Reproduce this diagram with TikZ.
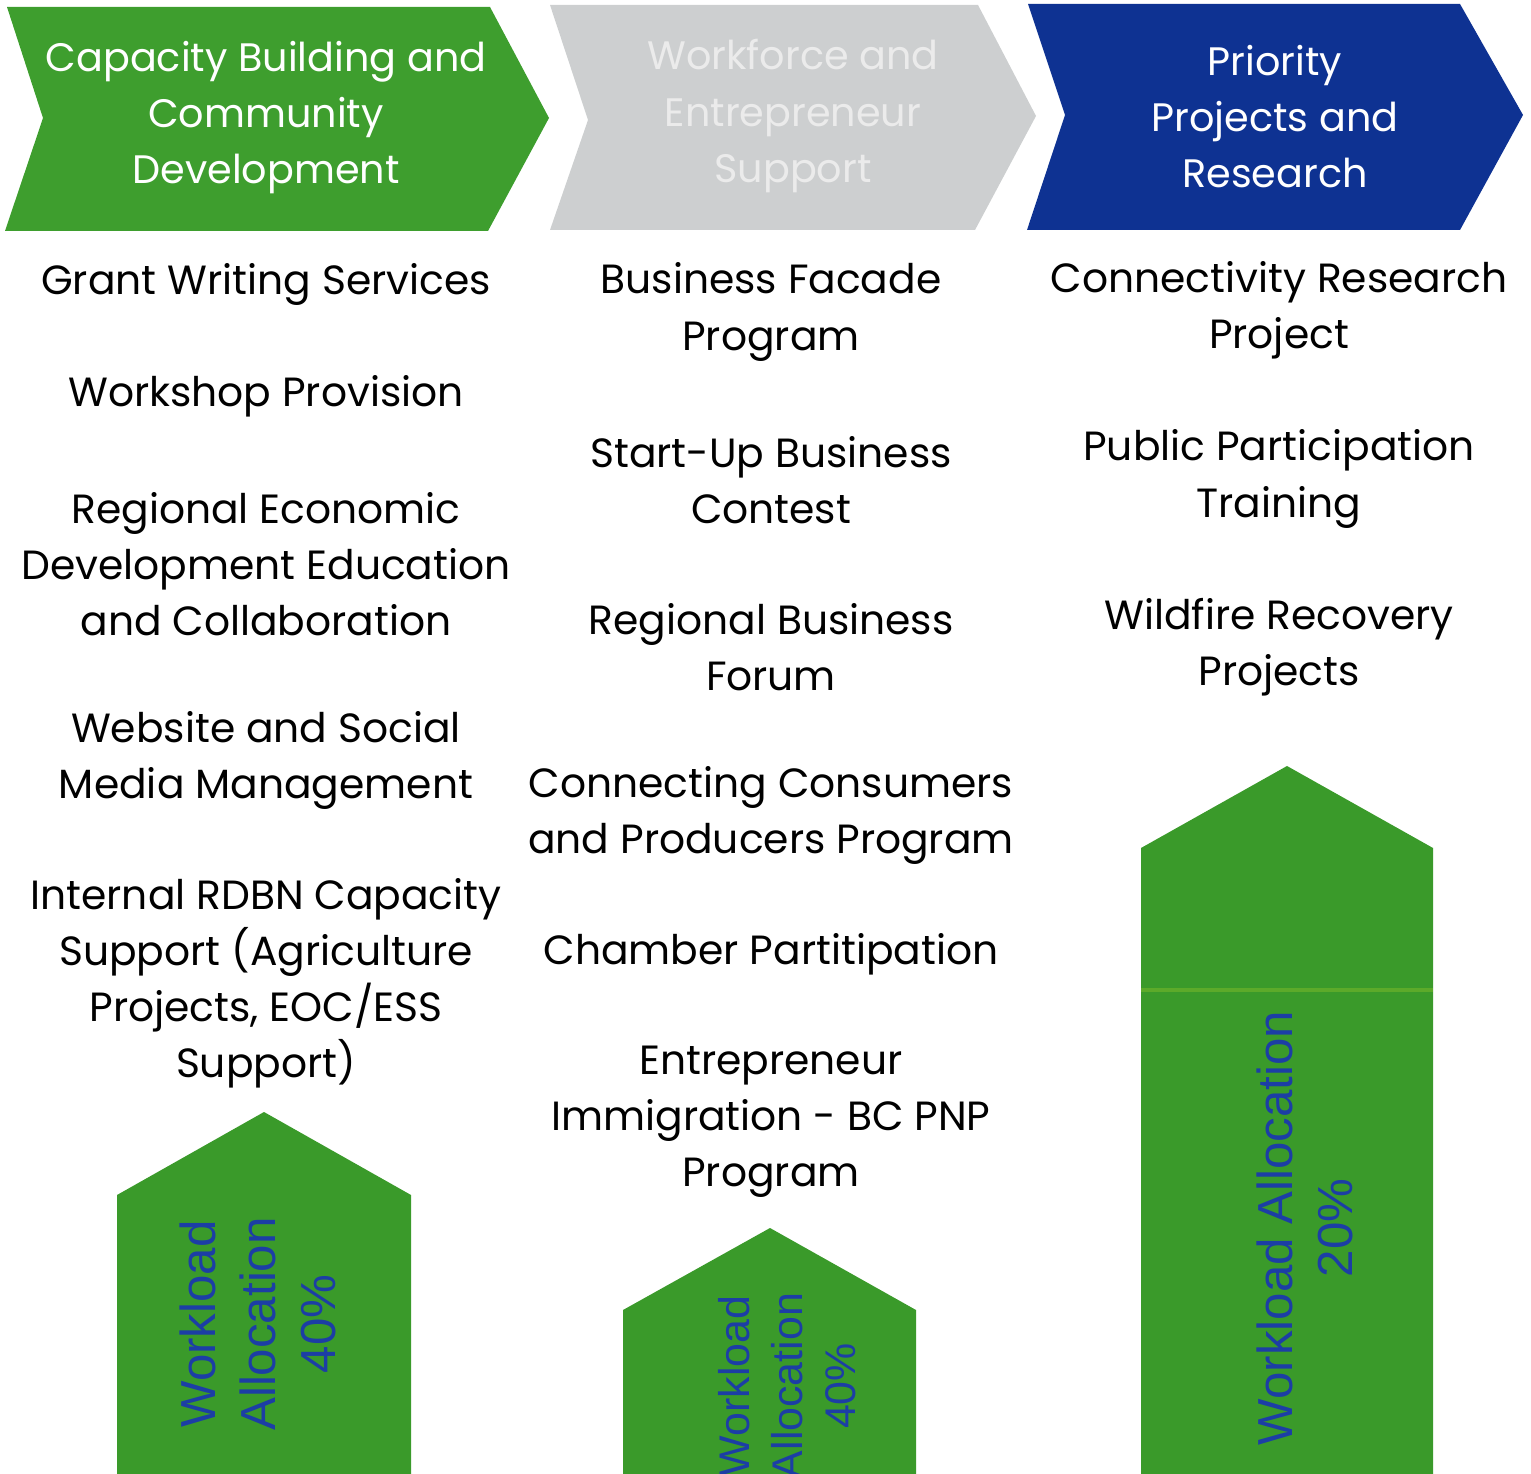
\documentclass[tikz,border=0pt]{standalone}
\usepackage{fontspec}
\setmainfont{Poppins}
\setsansfont{Liberation Sans}
\usepackage{tikz}
\usetikzlibrary{positioning}
\definecolor{capgreen}{RGB}{62,158,46}
\definecolor{boxgreen}{RGB}{58,154,42}
\definecolor{seamgreen}{RGB}{92,170,42}
\definecolor{wfgrey}{RGB}{205,207,208}
\definecolor{prblue}{RGB}{14,50,146}
\definecolor{allocblue}{RGB}{28,62,165}

\begin{document}
\begin{tikzpicture}[
  x=0.01cm, y=-0.01cm,
  head/.style={align=center, text=white, inner sep=0pt,
               font=\fontsize{11.3}{15.93}\selectfont},
  item/.style={align=center, text=black, inner sep=0pt,
               font=\fontsize{11.6}{15.93}\selectfont},
  alloc/.style={align=center, rotate=90, text=allocblue, inner sep=0pt,
                font=\sffamily\fontsize{14}{17.1}\selectfont},
  seam/.style={draw=seamgreen, line width=1pt}
]
\useasboundingbox (0,0) rectangle (1531,1474);
\clip (0,0) rectangle (1531,1474);

% phase chevrons
\fill[capgreen] (7,7) -- (490,7) -- (549,118) -- (488,231) -- (5,231) -- (43,118) -- cycle;
\fill[wfgrey] (550,5) -- (978,5) -- (1036,116) -- (975,230) -- (550,230) -- (588,120) -- cycle;
\fill[prblue] (1028,4) -- (1460,4) -- (1523,115) -- (1460,230) -- (1027,230) -- (1065,115) -- cycle;
\node[head] (cap) at (266,118) {Capacity Building and\\Community\\Development};
\node[head, text=white!92!black] (wf) at (793,116) {Workforce and\\Entrepreneur\\Support};
\node[head] (pr) at (1275,117) {Priority\\Projects and\\Research};

% capacity column
\node[item] (grant) at (266,284) {Grant Writing Services};
\node[item] (workshop) at (266,396) {Workshop Provision};
\node[item] (regecon) at (266,564) {Regional Economic\\Development Education\\and Collaboration};
\node[item] (website) at (266,760) {Website and Social\\Media Management};
\node[item] (internal) at (266,983) {Internal RDBN Capacity\\Support (Agriculture\\Projects, EOC/ESS\\Support)};

% workforce column
\node[item] (facade) at (771,312) {Business Facade\\Program};
\node[item] (startup) at (771,480) {Start-Up Business\\Contest};
\node[item] (forum) at (771,647) {Regional Business\\Forum};
\node[item] (consumers) at (771,815) {Connecting Consumers\\and Producers Program};
\node[item] (chamber) at (771,954) {Chamber Partitipation};
\node[item] (immig) at (771,1122) {Entrepreneur\\Immigration - BC PNP\\Program};

% priority column
\node[item] (connect) at (1279,310) {Connectivity Research\\Project};
\node[item] (public) at (1279,479) {Public Participation\\Training};
\node[item] (wildfire) at (1279,647) {Wildfire Recovery\\Projects};

% workload allocation blocks
\fill[boxgreen] (117,1195) -- (264,1112) -- (411,1195) -- (411,1474) -- (117,1474) -- cycle;
\fill[boxgreen] (623,1310) -- (770,1228) -- (916,1310) -- (916,1480) -- (623,1480) -- cycle;
\fill[boxgreen] (1141,848) -- (1287,766) -- (1433,848) -- (1433,1480) -- (1141,1480) -- cycle;
\draw[seam] (1141,990) -- (1433,990);
\node[alloc] (alloccap) at (258,1324) {Workload\\Allocation\\40\%};
\node[alloc, font=\sffamily\fontsize{12.2}{15.1}\selectfont] (allocwf) at (787,1386) {Workload\\Allocation\\40\%};
\node[alloc] (allocpr) at (1305,1228) {Workload Allocation\\20\%};
\end{tikzpicture}
\end{document}
